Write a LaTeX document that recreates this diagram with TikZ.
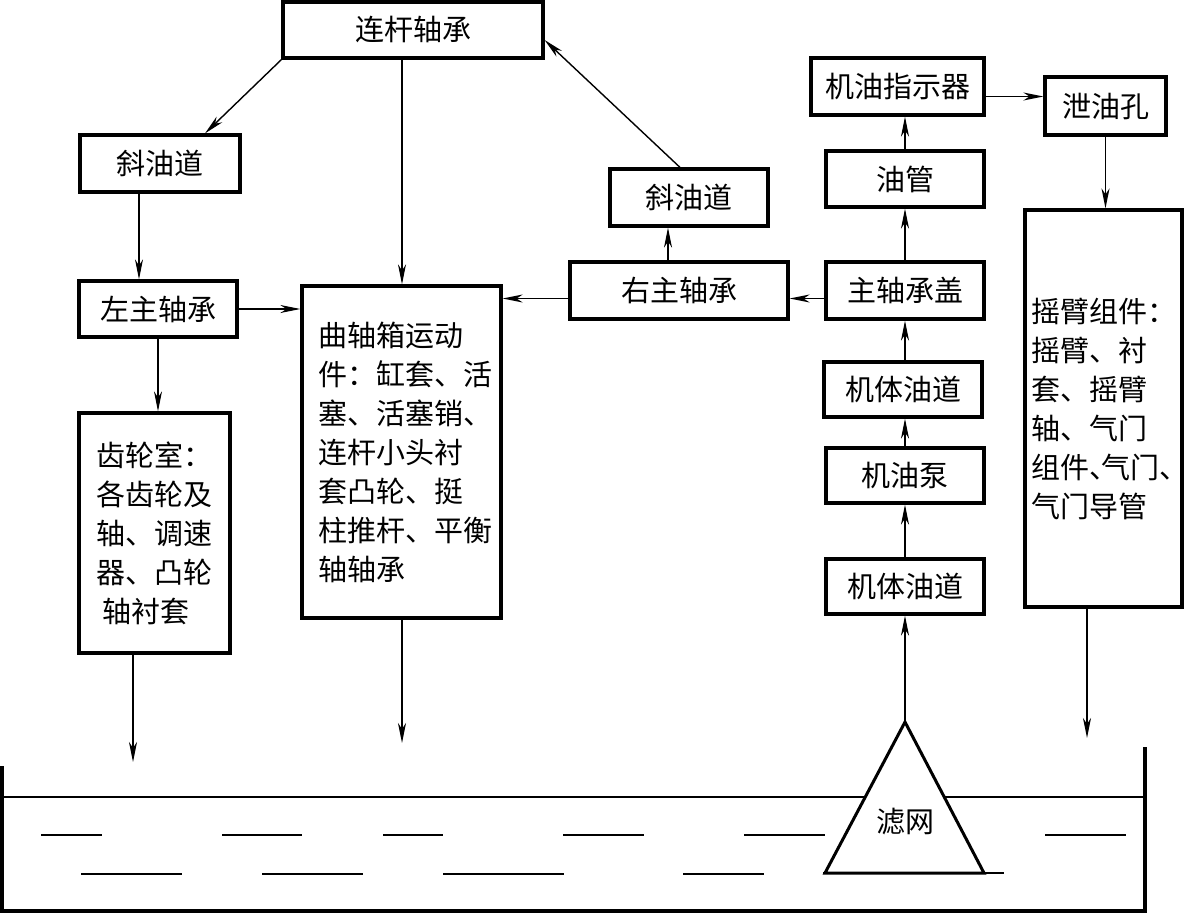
\documentclass[tikz,border=0pt]{standalone}
\usepackage{fontspec}
\setmainfont{Noto Sans CJK SC}
\usetikzlibrary{arrows.meta}
\newcommand{\dn}{\makebox[0.42em][l]{、}}
\begin{document}
\begin{tikzpicture}[x=1pt,y=-1pt,
  box/.style={draw,line width=3.2pt,inner sep=0pt,align=left,font=\fontsize{29}{39}\selectfont},
  lbl/.style={inner sep=0pt,font=\fontsize{29}{39}\selectfont},
  arr/.style={line width=1.4pt,-{Stealth[length=20pt,width=8pt,inset=6pt]}},
  tank/.style={line width=3.5pt},
  liq/.style={line width=2pt}]
\useasboundingbox (0,0) rectangle (1184,913);

\node[box,minimum width=260pt,minimum height=56pt] (lg) at (413,30) {连杆轴承};
\node[box,minimum width=160pt,minimum height=57pt] (xl) at (160,163.5) {斜油道};
\node[box,minimum width=158pt,minimum height=56pt] (zl) at (158,309) {左主轴承};
\node[box,minimum width=151pt,minimum height=240pt] (cl) at (154.5,533) {齿轮室：\\各齿轮及\\轴、调速\\器、凸轮\\\hspace{6pt}轴衬套};
\node[box,minimum width=199pt,minimum height=332pt] (qz) at (401.5,452) {\hspace{8pt}曲轴箱运动\\\hspace{8pt}件：缸套、活\\\hspace{8pt}塞、活塞销、\\\hspace{8pt}连杆小头衬\\\hspace{8pt}套凸轮、挺\\\hspace{8pt}柱推杆、平衡\\\hspace{8pt}轴轴承};
\node[box,minimum width=158pt,minimum height=57pt] (xr) at (689,197.5) {斜油道};
\node[box,minimum width=218pt,minimum height=57pt] (yz) at (679,290.5) {右主轴承};
\node[box,minimum width=158pt,minimum height=57pt] (zg) at (905,290.5) {主轴承盖};
\node[box,minimum width=158pt,minimum height=56pt] (yg) at (905,179) {油管};
\node[box,minimum width=173pt,minimum height=57pt] (zs) at (897.5,86.5) {机油指示器};
\node[box,minimum width=121pt,minimum height=58pt] (xy) at (1105.5,106) {泄油孔};
\node[box,minimum width=157pt,minimum height=397pt] (yb) at (1103.5,408.5) {摇臂组件：\\摇臂、衬\\套、摇臂\\轴、气门\\组件\dn 气门\dn\\气门导管};
\node[box,minimum width=158pt,minimum height=55pt] (jt1) at (903,389.5) {机体油道};
\node[box,minimum width=158pt,minimum height=55pt] (jb) at (905,475.5) {机油泵};
\node[box,minimum width=158pt,minimum height=55pt] (jt2) at (905,586.5) {机体油道};

\coordinate (e1) at (133,762);
\coordinate (e2) at (402,743);
\coordinate (e3) at (1087,738);
\coordinate (apex) at (905,722);

% oil pan
\draw[tank] (2,766) -- (2,911) -- (1145,911) -- (1145,747);
\draw[liq] (2,797) -- (865,797);
\draw[liq] (945,797) -- (1145,797);
\foreach \a/\b in {41/102,222/302,383/443,563/644,744/825,1045/1126}
  \draw[liq] (\a,835) -- (\b,835);
\foreach \a/\b in {81/182,262/363,443/564,683/764}
  \draw[liq] (\a,874) -- (\b,874);
\draw[line width=3pt,line join=miter] (apex) -- (825,873) -- (984,873) -- cycle;
\draw[liq] (823,873) -- (1004,873);
\node[lbl] (lw) at (905,822) {滤网};

% connectors
\draw[arr] (lg.south west) -- ([xshift=45pt]xl.north);
\draw[arr] (lg.south -| e2) -- (qz.north -| e2);
\draw[arr] ([xshift=-21pt]xl.south) -- ([xshift=-21pt]xl.south |- zl.north);
\draw[arr] (zl.east) -- (zl.east -| qz.west);
\draw[arr] (zl.south) -- (zl.south |- cl.north);
\draw[arr] (cl.south -| e1) -- (e1);
\draw[arr] (qz.south -| e2) -- (e2);
\draw[arr] ([xshift=-9pt]xr.north) -- ([yshift=-10pt]lg.east);
\draw[arr] ([xshift=-11pt]yz.north) -- ([xshift=-11pt]yz.north |- xr.south);
\draw[arr] ([yshift=-8pt]yz.west) -- ([yshift=-8pt]yz.west -| qz.east);
\draw[arr] ([yshift=-8pt]zg.west) -- ([yshift=-8pt]zg.west -| yz.east);
\draw[arr] (zg.north) -- (yg.south);
\draw[arr] (yg.north) -- (yg.north |- zs.south);
\draw[arr] ([yshift=-10pt]zs.east) -- ([yshift=-10pt]zs.east -| xy.west);
\draw[arr] (xy.south) -- (xy.south |- yb.north);
\draw[arr] (yb.south -| e3) -- (e3);
\draw[arr] (zg.south |- jt1.north) -- (zg.south);
\draw[arr] (jb.north) -- (jb.north |- jt1.south);
\draw[arr] (jt2.north) -- (jb.south);
\draw[arr] (apex) -- (jt2.south);
\end{tikzpicture}
\end{document}
